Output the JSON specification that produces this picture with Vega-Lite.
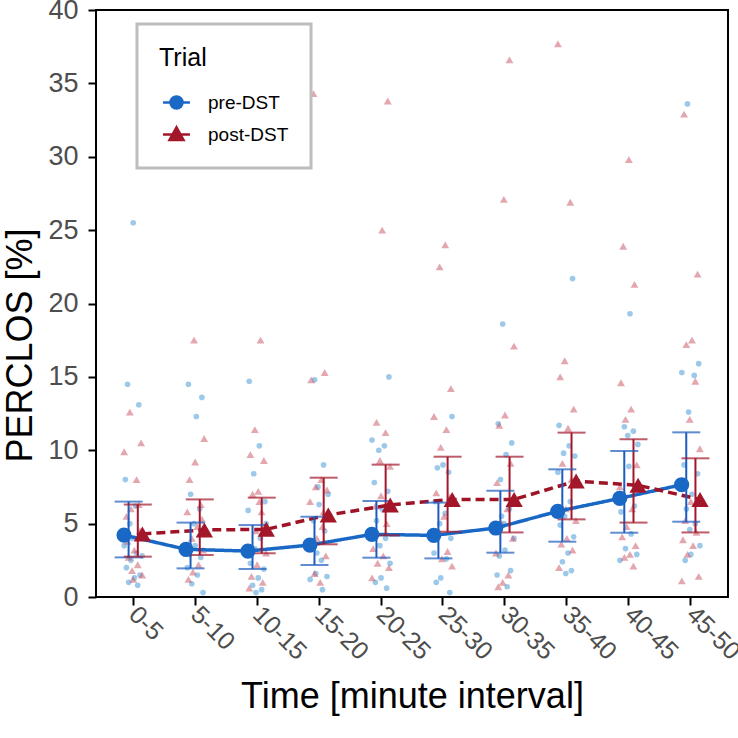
{
"$schema":"https://vega.github.io/schema/vega-lite/v6.json",
"width":632,"height":587,
"autosize":"none",
"padding":{"left":96,"top":10,"right":10,"bottom":141},
"background":"white",
"config":{
"font":"Liberation Sans",
"view":{"stroke":"black","strokeWidth":2},
"axis":{"grid":false,"domain":false,"tickColor":"black","tickWidth":2,"tickSize":8,"labelColor":"#4D4D4D","labelFontSize":27,"titleColor":"black","titleFontSize":36,"titleFontWeight":"normal"}
},
"datasets":{
"raw":[
{"interval":"0-5","trial":"pre-DST","subject":8,"perclos":25.5},{"interval":"0-5","trial":"pre-DST","subject":3,"perclos":14.5},{"interval":"0-5","trial":"pre-DST","subject":13,"perclos":13.1},{"interval":"0-5","trial":"pre-DST","subject":1,"perclos":8.0},{"interval":"0-5","trial":"pre-DST","subject":10,"perclos":6.2},{"interval":"0-5","trial":"pre-DST","subject":5,"perclos":5.0},{"interval":"0-5","trial":"pre-DST","subject":15,"perclos":4.3},{"interval":"0-5","trial":"pre-DST","subject":0,"perclos":3.5},{"interval":"0-5","trial":"pre-DST","subject":11,"perclos":3.0},{"interval":"0-5","trial":"pre-DST","subject":6,"perclos":2.5},{"interval":"0-5","trial":"pre-DST","subject":2,"perclos":2.0},{"interval":"0-5","trial":"pre-DST","subject":14,"perclos":1.5},{"interval":"0-5","trial":"pre-DST","subject":9,"perclos":1.3},{"interval":"0-5","trial":"pre-DST","subject":4,"perclos":1.0},{"interval":"0-5","trial":"pre-DST","subject":12,"perclos":0.8},{"interval":"0-5","trial":"pre-DST","subject":7,"perclos":4.0},{"interval":"0-5","trial":"pre-DST","subject":16,"perclos":2.8},
{"interval":"0-5","trial":"post-DST","subject":5,"perclos":12.6},{"interval":"0-5","trial":"post-DST","subject":15,"perclos":10.5},{"interval":"0-5","trial":"post-DST","subject":0,"perclos":9.9},{"interval":"0-5","trial":"post-DST","subject":11,"perclos":8.0},{"interval":"0-5","trial":"post-DST","subject":6,"perclos":6.0},{"interval":"0-5","trial":"post-DST","subject":2,"perclos":5.5},{"interval":"0-5","trial":"post-DST","subject":14,"perclos":4.5},{"interval":"0-5","trial":"post-DST","subject":9,"perclos":3.2},{"interval":"0-5","trial":"post-DST","subject":4,"perclos":2.7},{"interval":"0-5","trial":"post-DST","subject":12,"perclos":2.2},{"interval":"0-5","trial":"post-DST","subject":7,"perclos":1.8},{"interval":"0-5","trial":"post-DST","subject":16,"perclos":1.5},{"interval":"0-5","trial":"post-DST","subject":8,"perclos":1.2},{"interval":"0-5","trial":"post-DST","subject":3,"perclos":3.8},{"interval":"0-5","trial":"post-DST","subject":13,"perclos":6.3},
{"interval":"5-10","trial":"pre-DST","subject":2,"perclos":14.5},{"interval":"5-10","trial":"pre-DST","subject":14,"perclos":13.6},{"interval":"5-10","trial":"pre-DST","subject":9,"perclos":12.3},{"interval":"5-10","trial":"pre-DST","subject":4,"perclos":7.0},{"interval":"5-10","trial":"pre-DST","subject":12,"perclos":6.0},{"interval":"5-10","trial":"pre-DST","subject":7,"perclos":5.0},{"interval":"5-10","trial":"pre-DST","subject":16,"perclos":4.4},{"interval":"5-10","trial":"pre-DST","subject":8,"perclos":3.5},{"interval":"5-10","trial":"pre-DST","subject":3,"perclos":2.9},{"interval":"5-10","trial":"pre-DST","subject":13,"perclos":2.7},{"interval":"5-10","trial":"pre-DST","subject":1,"perclos":2.0},{"interval":"5-10","trial":"pre-DST","subject":10,"perclos":1.5},{"interval":"5-10","trial":"pre-DST","subject":5,"perclos":0.9},{"interval":"5-10","trial":"pre-DST","subject":15,"perclos":0.3},{"interval":"5-10","trial":"pre-DST","subject":0,"perclos":3.2},
{"interval":"5-10","trial":"post-DST","subject":7,"perclos":17.5},{"interval":"5-10","trial":"post-DST","subject":16,"perclos":10.8},{"interval":"5-10","trial":"post-DST","subject":8,"perclos":9.2},{"interval":"5-10","trial":"post-DST","subject":3,"perclos":8.0},{"interval":"5-10","trial":"post-DST","subject":13,"perclos":6.3},{"interval":"5-10","trial":"post-DST","subject":1,"perclos":5.8},{"interval":"5-10","trial":"post-DST","subject":10,"perclos":4.8},{"interval":"5-10","trial":"post-DST","subject":5,"perclos":4.0},{"interval":"5-10","trial":"post-DST","subject":15,"perclos":3.2},{"interval":"5-10","trial":"post-DST","subject":0,"perclos":3.0},{"interval":"5-10","trial":"post-DST","subject":11,"perclos":2.2},{"interval":"5-10","trial":"post-DST","subject":6,"perclos":1.7},{"interval":"5-10","trial":"post-DST","subject":2,"perclos":1.2},{"interval":"5-10","trial":"post-DST","subject":14,"perclos":5.3},
{"interval":"10-15","trial":"pre-DST","subject":1,"perclos":14.7},{"interval":"10-15","trial":"pre-DST","subject":10,"perclos":10.3},{"interval":"10-15","trial":"pre-DST","subject":5,"perclos":8.4},{"interval":"10-15","trial":"pre-DST","subject":15,"perclos":6.5},{"interval":"10-15","trial":"pre-DST","subject":0,"perclos":5.9},{"interval":"10-15","trial":"pre-DST","subject":11,"perclos":4.0},{"interval":"10-15","trial":"pre-DST","subject":6,"perclos":3.3},{"interval":"10-15","trial":"pre-DST","subject":2,"perclos":2.3},{"interval":"10-15","trial":"pre-DST","subject":14,"perclos":1.9},{"interval":"10-15","trial":"pre-DST","subject":9,"perclos":1.3},{"interval":"10-15","trial":"pre-DST","subject":4,"perclos":0.8},{"interval":"10-15","trial":"pre-DST","subject":12,"perclos":0.5},{"interval":"10-15","trial":"pre-DST","subject":7,"perclos":0.3},{"interval":"10-15","trial":"pre-DST","subject":16,"perclos":5.0},
{"interval":"10-15","trial":"post-DST","subject":11,"perclos":17.5},{"interval":"10-15","trial":"post-DST","subject":6,"perclos":11.4},{"interval":"10-15","trial":"post-DST","subject":2,"perclos":9.7},{"interval":"10-15","trial":"post-DST","subject":14,"perclos":9.3},{"interval":"10-15","trial":"post-DST","subject":9,"perclos":7.2},{"interval":"10-15","trial":"post-DST","subject":4,"perclos":7.0},{"interval":"10-15","trial":"post-DST","subject":12,"perclos":5.8},{"interval":"10-15","trial":"post-DST","subject":7,"perclos":4.5},{"interval":"10-15","trial":"post-DST","subject":16,"perclos":3.0},{"interval":"10-15","trial":"post-DST","subject":8,"perclos":2.2},{"interval":"10-15","trial":"post-DST","subject":3,"perclos":1.4},{"interval":"10-15","trial":"post-DST","subject":13,"perclos":1.0},{"interval":"10-15","trial":"post-DST","subject":1,"perclos":0.6},{"interval":"10-15","trial":"post-DST","subject":10,"perclos":6.5},
{"interval":"15-20","trial":"pre-DST","subject":4,"perclos":14.8},{"interval":"15-20","trial":"pre-DST","subject":12,"perclos":9.0},{"interval":"15-20","trial":"pre-DST","subject":7,"perclos":7.5},{"interval":"15-20","trial":"pre-DST","subject":16,"perclos":7.0},{"interval":"15-20","trial":"pre-DST","subject":8,"perclos":6.3},{"interval":"15-20","trial":"pre-DST","subject":3,"perclos":5.2},{"interval":"15-20","trial":"pre-DST","subject":13,"perclos":4.5},{"interval":"15-20","trial":"pre-DST","subject":1,"perclos":3.6},{"interval":"15-20","trial":"pre-DST","subject":10,"perclos":2.5},{"interval":"15-20","trial":"pre-DST","subject":5,"perclos":1.6},{"interval":"15-20","trial":"pre-DST","subject":15,"perclos":1.4},{"interval":"15-20","trial":"pre-DST","subject":0,"perclos":1.2},{"interval":"15-20","trial":"pre-DST","subject":11,"perclos":0.5},{"interval":"15-20","trial":"pre-DST","subject":6,"perclos":3.0},
{"interval":"15-20","trial":"post-DST","subject":3,"perclos":34.3},{"interval":"15-20","trial":"post-DST","subject":13,"perclos":15.3},{"interval":"15-20","trial":"post-DST","subject":1,"perclos":14.8},{"interval":"15-20","trial":"post-DST","subject":10,"perclos":8.0},{"interval":"15-20","trial":"post-DST","subject":5,"perclos":7.5},{"interval":"15-20","trial":"post-DST","subject":15,"perclos":7.3},{"interval":"15-20","trial":"post-DST","subject":0,"perclos":6.5},{"interval":"15-20","trial":"post-DST","subject":11,"perclos":4.8},{"interval":"15-20","trial":"post-DST","subject":6,"perclos":4.0},{"interval":"15-20","trial":"post-DST","subject":2,"perclos":3.4},{"interval":"15-20","trial":"post-DST","subject":14,"perclos":2.8},{"interval":"15-20","trial":"post-DST","subject":9,"perclos":1.0},{"interval":"15-20","trial":"post-DST","subject":4,"perclos":1.6},{"interval":"15-20","trial":"post-DST","subject":12,"perclos":5.8},
{"interval":"20-25","trial":"pre-DST","subject":15,"perclos":15.0},{"interval":"20-25","trial":"pre-DST","subject":0,"perclos":10.7},{"interval":"20-25","trial":"pre-DST","subject":11,"perclos":10.3},{"interval":"20-25","trial":"pre-DST","subject":6,"perclos":10.0},{"interval":"20-25","trial":"pre-DST","subject":2,"perclos":7.8},{"interval":"20-25","trial":"pre-DST","subject":14,"perclos":7.2},{"interval":"20-25","trial":"pre-DST","subject":9,"perclos":6.0},{"interval":"20-25","trial":"pre-DST","subject":4,"perclos":5.2},{"interval":"20-25","trial":"pre-DST","subject":12,"perclos":4.0},{"interval":"20-25","trial":"pre-DST","subject":7,"perclos":3.5},{"interval":"20-25","trial":"pre-DST","subject":16,"perclos":2.3},{"interval":"20-25","trial":"pre-DST","subject":8,"perclos":1.3},{"interval":"20-25","trial":"pre-DST","subject":3,"perclos":1.0},{"interval":"20-25","trial":"pre-DST","subject":13,"perclos":0.6},
{"interval":"20-25","trial":"post-DST","subject":14,"perclos":33.8},{"interval":"20-25","trial":"post-DST","subject":9,"perclos":25.0},{"interval":"20-25","trial":"post-DST","subject":4,"perclos":11.9},{"interval":"20-25","trial":"post-DST","subject":12,"perclos":11.2},{"interval":"20-25","trial":"post-DST","subject":7,"perclos":9.3},{"interval":"20-25","trial":"post-DST","subject":16,"perclos":8.9},{"interval":"20-25","trial":"post-DST","subject":8,"perclos":6.9},{"interval":"20-25","trial":"post-DST","subject":3,"perclos":6.2},{"interval":"20-25","trial":"post-DST","subject":13,"perclos":5.0},{"interval":"20-25","trial":"post-DST","subject":1,"perclos":3.3},{"interval":"20-25","trial":"post-DST","subject":10,"perclos":2.8},{"interval":"20-25","trial":"post-DST","subject":5,"perclos":2.3},{"interval":"20-25","trial":"post-DST","subject":15,"perclos":2.0},{"interval":"20-25","trial":"post-DST","subject":0,"perclos":1.3},
{"interval":"25-30","trial":"pre-DST","subject":16,"perclos":12.3},{"interval":"25-30","trial":"pre-DST","subject":8,"perclos":9.0},{"interval":"25-30","trial":"pre-DST","subject":3,"perclos":8.8},{"interval":"25-30","trial":"pre-DST","subject":13,"perclos":8.5},{"interval":"25-30","trial":"pre-DST","subject":1,"perclos":6.5},{"interval":"25-30","trial":"pre-DST","subject":10,"perclos":5.7},{"interval":"25-30","trial":"pre-DST","subject":5,"perclos":5.0},{"interval":"25-30","trial":"pre-DST","subject":15,"perclos":4.0},{"interval":"25-30","trial":"pre-DST","subject":0,"perclos":3.0},{"interval":"25-30","trial":"pre-DST","subject":11,"perclos":2.6},{"interval":"25-30","trial":"pre-DST","subject":6,"perclos":1.3},{"interval":"25-30","trial":"pre-DST","subject":2,"perclos":1.0},{"interval":"25-30","trial":"pre-DST","subject":14,"perclos":0.3},
{"interval":"25-30","trial":"post-DST","subject":10,"perclos":24.0},{"interval":"25-30","trial":"post-DST","subject":5,"perclos":22.5},{"interval":"25-30","trial":"post-DST","subject":15,"perclos":14.2},{"interval":"25-30","trial":"post-DST","subject":0,"perclos":12.3},{"interval":"25-30","trial":"post-DST","subject":11,"perclos":11.4},{"interval":"25-30","trial":"post-DST","subject":6,"perclos":10.2},{"interval":"25-30","trial":"post-DST","subject":2,"perclos":7.1},{"interval":"25-30","trial":"post-DST","subject":14,"perclos":6.8},{"interval":"25-30","trial":"post-DST","subject":9,"perclos":5.5},{"interval":"25-30","trial":"post-DST","subject":4,"perclos":4.5},{"interval":"25-30","trial":"post-DST","subject":12,"perclos":3.1},{"interval":"25-30","trial":"post-DST","subject":7,"perclos":2.6},{"interval":"25-30","trial":"post-DST","subject":16,"perclos":2.1},
{"interval":"30-35","trial":"pre-DST","subject":6,"perclos":18.6},{"interval":"30-35","trial":"pre-DST","subject":2,"perclos":11.8},{"interval":"30-35","trial":"pre-DST","subject":14,"perclos":10.5},{"interval":"30-35","trial":"pre-DST","subject":9,"perclos":9.7},{"interval":"30-35","trial":"pre-DST","subject":4,"perclos":8.0},{"interval":"30-35","trial":"pre-DST","subject":12,"perclos":6.0},{"interval":"30-35","trial":"pre-DST","subject":7,"perclos":5.0},{"interval":"30-35","trial":"pre-DST","subject":16,"perclos":4.0},{"interval":"30-35","trial":"pre-DST","subject":8,"perclos":3.2},{"interval":"30-35","trial":"pre-DST","subject":3,"perclos":2.8},{"interval":"30-35","trial":"pre-DST","subject":13,"perclos":1.8},{"interval":"30-35","trial":"pre-DST","subject":1,"perclos":1.5},{"interval":"30-35","trial":"pre-DST","subject":10,"perclos":0.7},{"interval":"30-35","trial":"pre-DST","subject":5,"perclos":5.5},
{"interval":"30-35","trial":"post-DST","subject":12,"perclos":36.6},{"interval":"30-35","trial":"post-DST","subject":7,"perclos":27.1},{"interval":"30-35","trial":"post-DST","subject":16,"perclos":17.1},{"interval":"30-35","trial":"post-DST","subject":8,"perclos":12.4},{"interval":"30-35","trial":"post-DST","subject":3,"perclos":11.7},{"interval":"30-35","trial":"post-DST","subject":13,"perclos":9.1},{"interval":"30-35","trial":"post-DST","subject":1,"perclos":7.8},{"interval":"30-35","trial":"post-DST","subject":10,"perclos":6.0},{"interval":"30-35","trial":"post-DST","subject":5,"perclos":5.0},{"interval":"30-35","trial":"post-DST","subject":15,"perclos":4.0},{"interval":"30-35","trial":"post-DST","subject":0,"perclos":3.0},{"interval":"30-35","trial":"post-DST","subject":11,"perclos":1.5},{"interval":"30-35","trial":"post-DST","subject":6,"perclos":1.0},{"interval":"30-35","trial":"post-DST","subject":2,"perclos":0.7},
{"interval":"35-40","trial":"pre-DST","subject":13,"perclos":21.7},{"interval":"35-40","trial":"pre-DST","subject":1,"perclos":11.7},{"interval":"35-40","trial":"pre-DST","subject":10,"perclos":10.3},{"interval":"35-40","trial":"pre-DST","subject":5,"perclos":9.8},{"interval":"35-40","trial":"pre-DST","subject":15,"perclos":9.6},{"interval":"35-40","trial":"pre-DST","subject":0,"perclos":8.5},{"interval":"35-40","trial":"pre-DST","subject":11,"perclos":6.5},{"interval":"35-40","trial":"pre-DST","subject":6,"perclos":5.5},{"interval":"35-40","trial":"pre-DST","subject":2,"perclos":4.9},{"interval":"35-40","trial":"pre-DST","subject":14,"perclos":4.1},{"interval":"35-40","trial":"pre-DST","subject":9,"perclos":3.0},{"interval":"35-40","trial":"pre-DST","subject":4,"perclos":2.4},{"interval":"35-40","trial":"pre-DST","subject":12,"perclos":1.8},{"interval":"35-40","trial":"pre-DST","subject":7,"perclos":1.6},
{"interval":"35-40","trial":"post-DST","subject":0,"perclos":37.7},{"interval":"35-40","trial":"post-DST","subject":11,"perclos":26.9},{"interval":"35-40","trial":"post-DST","subject":6,"perclos":16.1},{"interval":"35-40","trial":"post-DST","subject":2,"perclos":15.0},{"interval":"35-40","trial":"post-DST","subject":14,"perclos":12.8},{"interval":"35-40","trial":"post-DST","subject":9,"perclos":11.5},{"interval":"35-40","trial":"post-DST","subject":4,"perclos":9.1},{"interval":"35-40","trial":"post-DST","subject":12,"perclos":8.0},{"interval":"35-40","trial":"post-DST","subject":7,"perclos":6.0},{"interval":"35-40","trial":"post-DST","subject":16,"perclos":5.2},{"interval":"35-40","trial":"post-DST","subject":8,"perclos":4.0},{"interval":"35-40","trial":"post-DST","subject":3,"perclos":3.6},{"interval":"35-40","trial":"post-DST","subject":13,"perclos":3.2},{"interval":"35-40","trial":"post-DST","subject":1,"perclos":2.0},
{"interval":"40-45","trial":"pre-DST","subject":9,"perclos":19.3},{"interval":"40-45","trial":"pre-DST","subject":4,"perclos":11.6},{"interval":"40-45","trial":"pre-DST","subject":12,"perclos":11.3},{"interval":"40-45","trial":"pre-DST","subject":7,"perclos":11.0},{"interval":"40-45","trial":"pre-DST","subject":16,"perclos":10.4},{"interval":"40-45","trial":"pre-DST","subject":8,"perclos":8.9},{"interval":"40-45","trial":"pre-DST","subject":3,"perclos":7.0},{"interval":"40-45","trial":"pre-DST","subject":13,"perclos":6.2},{"interval":"40-45","trial":"pre-DST","subject":1,"perclos":5.8},{"interval":"40-45","trial":"pre-DST","subject":10,"perclos":4.3},{"interval":"40-45","trial":"pre-DST","subject":5,"perclos":3.3},{"interval":"40-45","trial":"pre-DST","subject":15,"perclos":2.9},{"interval":"40-45","trial":"pre-DST","subject":0,"perclos":2.5},
{"interval":"40-45","trial":"post-DST","subject":8,"perclos":29.8},{"interval":"40-45","trial":"post-DST","subject":3,"perclos":23.9},{"interval":"40-45","trial":"post-DST","subject":13,"perclos":21.3},{"interval":"40-45","trial":"post-DST","subject":1,"perclos":14.6},{"interval":"40-45","trial":"post-DST","subject":10,"perclos":12.8},{"interval":"40-45","trial":"post-DST","subject":5,"perclos":12.1},{"interval":"40-45","trial":"post-DST","subject":15,"perclos":9.0},{"interval":"40-45","trial":"post-DST","subject":0,"perclos":7.5},{"interval":"40-45","trial":"post-DST","subject":11,"perclos":6.0},{"interval":"40-45","trial":"post-DST","subject":6,"perclos":4.8},{"interval":"40-45","trial":"post-DST","subject":2,"perclos":4.1},{"interval":"40-45","trial":"post-DST","subject":14,"perclos":3.5},{"interval":"40-45","trial":"post-DST","subject":9,"perclos":2.9},{"interval":"40-45","trial":"post-DST","subject":4,"perclos":2.7},{"interval":"40-45","trial":"post-DST","subject":12,"perclos":2.1},
{"interval":"45-50","trial":"pre-DST","subject":5,"perclos":33.6},{"interval":"45-50","trial":"pre-DST","subject":15,"perclos":15.9},{"interval":"45-50","trial":"pre-DST","subject":0,"perclos":15.3},{"interval":"45-50","trial":"pre-DST","subject":11,"perclos":15.1},{"interval":"45-50","trial":"pre-DST","subject":6,"perclos":12.6},{"interval":"45-50","trial":"pre-DST","subject":2,"perclos":9.0},{"interval":"45-50","trial":"pre-DST","subject":14,"perclos":8.4},{"interval":"45-50","trial":"pre-DST","subject":9,"perclos":7.0},{"interval":"45-50","trial":"pre-DST","subject":4,"perclos":6.0},{"interval":"45-50","trial":"pre-DST","subject":12,"perclos":5.0},{"interval":"45-50","trial":"pre-DST","subject":7,"perclos":4.6},{"interval":"45-50","trial":"pre-DST","subject":16,"perclos":3.5},{"interval":"45-50","trial":"pre-DST","subject":8,"perclos":2.9},{"interval":"45-50","trial":"pre-DST","subject":3,"perclos":2.5},
{"interval":"45-50","trial":"post-DST","subject":2,"perclos":32.9},{"interval":"45-50","trial":"post-DST","subject":14,"perclos":22.0},{"interval":"45-50","trial":"post-DST","subject":9,"perclos":17.5},{"interval":"45-50","trial":"post-DST","subject":4,"perclos":17.2},{"interval":"45-50","trial":"post-DST","subject":12,"perclos":14.7},{"interval":"45-50","trial":"post-DST","subject":7,"perclos":12.1},{"interval":"45-50","trial":"post-DST","subject":16,"perclos":10.1},{"interval":"45-50","trial":"post-DST","subject":8,"perclos":6.5},{"interval":"45-50","trial":"post-DST","subject":3,"perclos":5.2},{"interval":"45-50","trial":"post-DST","subject":13,"perclos":4.4},{"interval":"45-50","trial":"post-DST","subject":1,"perclos":3.9},{"interval":"45-50","trial":"post-DST","subject":10,"perclos":3.5},{"interval":"45-50","trial":"post-DST","subject":5,"perclos":2.9},{"interval":"45-50","trial":"post-DST","subject":15,"perclos":1.4},{"interval":"45-50","trial":"post-DST","subject":0,"perclos":1.1}
],
"summary":[
{"interval":"0-5","trial":"pre-DST","mean":4.22,"lo":2.7,"hi":6.5},{"interval":"0-5","trial":"post-DST","mean":4.3,"lo":2.75,"hi":6.3},
{"interval":"5-10","trial":"pre-DST","mean":3.25,"lo":1.95,"hi":5.07},{"interval":"5-10","trial":"post-DST","mean":4.57,"lo":2.86,"hi":6.65},
{"interval":"10-15","trial":"pre-DST","mean":3.13,"lo":1.91,"hi":4.9},{"interval":"10-15","trial":"post-DST","mean":4.61,"lo":2.98,"hi":6.77},
{"interval":"15-20","trial":"pre-DST","mean":3.54,"lo":2.18,"hi":5.47},{"interval":"15-20","trial":"post-DST","mean":5.59,"lo":3.59,"hi":8.13},
{"interval":"20-25","trial":"pre-DST","mean":4.27,"lo":2.68,"hi":6.54},{"interval":"20-25","trial":"post-DST","mean":6.27,"lo":4.2,"hi":9.02},
{"interval":"25-30","trial":"pre-DST","mean":4.2,"lo":2.63,"hi":6.43},{"interval":"25-30","trial":"post-DST","mean":6.65,"lo":4.45,"hi":9.56},
{"interval":"30-35","trial":"pre-DST","mean":4.7,"lo":3.02,"hi":7.24},{"interval":"30-35","trial":"post-DST","mean":6.65,"lo":4.4,"hi":9.56},
{"interval":"35-40","trial":"pre-DST","mean":5.84,"lo":3.77,"hi":8.7},{"interval":"35-40","trial":"post-DST","mean":7.9,"lo":5.29,"hi":11.2},
{"interval":"40-45","trial":"pre-DST","mean":6.72,"lo":4.38,"hi":9.95},{"interval":"40-45","trial":"post-DST","mean":7.61,"lo":5.07,"hi":10.75},
{"interval":"45-50","trial":"pre-DST","mean":7.65,"lo":5.13,"hi":11.22},{"interval":"45-50","trial":"post-DST","mean":6.65,"lo":4.4,"hi":9.45}
]
},
"resolve":{"scale":{"xOffset":"independent"}},
"encoding":{
"x":{"field":"interval","type":"nominal","sort":["0-5","5-10","10-15","15-20","20-25","25-30","30-35","35-40","40-45","45-50"],
"scale":{"type":"band","paddingInner":0,"paddingOuter":0.1},
"axis":{"title":"Time [minute interval]","labelAngle":45,"labelAlign":"left","labelBaseline":"middle","labelPadding":5,"labelDx":-4,"labelFontSize":25,"labelOverlap":false,"labelFlush":false,"titleBaseline":"alphabetic","titleY":110}}
},
"layer":[
{"data":{"name":"raw"},"transform":[{"filter":"datum.trial === 'pre-DST'"}],
"mark":{"type":"point","filled":true,"shape":"circle","size":32,"color":"#4A9CD8","opacity":0.55,"strokeWidth":0},
"encoding":{
"y":{"field":"perclos","type":"quantitative","title":"PERCLOS [%]","scale":{"domain":[0,40],"nice":false,"zero":true},"axis":{"values":[0,5,10,15,20,25,30,35,40],"labelPadding":10,"titlePadding":8,"titleY":335}},
"xOffset":{"field":"subject","type":"nominal","scale":{"domain":[0,1,2,3,4,5,6,7,8,9,10,11,12,13,14,15,16],"range":[22,40],"paddingInner":0,"paddingOuter":0}}}},
{"data":{"name":"raw"},"transform":[{"filter":"datum.trial === 'post-DST'"}],
"mark":{"type":"point","filled":true,"shape":"triangle-up","size":62,"color":"#C8505F","opacity":0.5,"strokeWidth":0},
"encoding":{
"y":{"field":"perclos","type":"quantitative","title":"PERCLOS [%]","scale":{"domain":[0,40],"nice":false,"zero":true}},
"xOffset":{"field":"subject","type":"nominal","scale":{"domain":[0,1,2,3,4,5,6,7,8,9,10,11,12,13,14,15,16],"range":[22,40],"paddingInner":0,"paddingOuter":0}}}},
{"data":{"name":"summary"},
"mark":{"type":"line","strokeWidth":3.5},
"encoding":{
"y":{"field":"mean","type":"quantitative","title":"PERCLOS [%]","scale":{"domain":[0,40],"nice":false,"zero":true}},
"xOffset":{"field":"trial","type":"nominal","scale":{"domain":["pre-DST","post-DST"],"range":[21.8,40.2],"paddingInner":0,"paddingOuter":0}},
"detail":{"field":"trial","type":"nominal"},
"color":{"condition":{"test":"datum.trial === 'pre-DST'","value":"#1A68C6"},"value":"#9E1426"},
"strokeDash":{"condition":{"test":"datum.trial === 'pre-DST'","value":[1,0]},"value":[9,5]}}},
{"data":{"name":"summary"},
"mark":{"type":"rule","strokeWidth":2},
"encoding":{
"y":{"field":"lo","type":"quantitative","title":"PERCLOS [%]","scale":{"domain":[0,40],"nice":false,"zero":true}},
"y2":{"field":"hi"},
"xOffset":{"field":"trial","type":"nominal","scale":{"domain":["pre-DST","post-DST"],"range":[21.8,40.2],"paddingInner":0,"paddingOuter":0}},
"color":{"condition":{"test":"datum.trial === 'pre-DST'","value":"#1D5CBE"},"value":"#A3172B"}}},
{"data":{"name":"summary"},
"mark":{"type":"tick","size":28,"thickness":2},
"encoding":{
"y":{"field":"lo","type":"quantitative","title":"PERCLOS [%]","scale":{"domain":[0,40],"nice":false,"zero":true}},
"xOffset":{"field":"trial","type":"nominal","scale":{"domain":["pre-DST","post-DST"],"range":[21.8,40.2],"paddingInner":0,"paddingOuter":0}},
"color":{"condition":{"test":"datum.trial === 'pre-DST'","value":"#1D5CBE"},"value":"#A3172B"}}},
{"data":{"name":"summary"},
"mark":{"type":"tick","size":28,"thickness":2},
"encoding":{
"y":{"field":"hi","type":"quantitative","title":"PERCLOS [%]","scale":{"domain":[0,40],"nice":false,"zero":true}},
"xOffset":{"field":"trial","type":"nominal","scale":{"domain":["pre-DST","post-DST"],"range":[21.8,40.2],"paddingInner":0,"paddingOuter":0}},
"color":{"condition":{"test":"datum.trial === 'pre-DST'","value":"#1D5CBE"},"value":"#A3172B"}}},
{"data":{"name":"summary"},
"mark":{"type":"point","filled":true,"opacity":1},
"encoding":{
"y":{"field":"mean","type":"quantitative","title":"PERCLOS [%]","scale":{"domain":[0,40],"nice":false,"zero":true}},
"xOffset":{"field":"trial","type":"nominal","scale":{"domain":["pre-DST","post-DST"],"range":[21.8,40.2],"paddingInner":0,"paddingOuter":0}},
"shape":{"condition":{"test":"datum.trial === 'pre-DST'","value":"circle"},"value":"triangle-up"},
"size":{"condition":{"test":"datum.trial === 'pre-DST'","value":230},"value":300},
"color":{"field":"trial","type":"nominal","scale":{"domain":["pre-DST","post-DST"],"range":["#1A68C6","#A3172B"]},
"legend":{"orient":"none","legendX":41,"legendY":14,"title":"Trial","titleFontSize":25,"titleFontWeight":"normal","titleColor":"black","titlePadding":14,
"labelFontSize":19,"labelColor":"black","labelOffset":14,"symbolSize":1024,"rowPadding":3,"padding":22,
"strokeColor":"#BEBEBE","fillColor":"white",
"encoding":{
"legend":{"strokeWidth":{"value":3}},
"symbols":{
"shape":{"value":{"expr":"datum.value === 'pre-DST' ? 'M-0.84,0H0.84M0.375,0A0.375,0.375,0,1,1,-0.375,0A0.375,0.375,0,1,1,0.375,0Z' : 'M-0.84,0H0.84M0,-0.45L0.44,0.35L-0.44,0.35Z'"}},
"size":{"value":1024},
"stroke":{"value":{"expr":"datum.value === 'pre-DST' ? '#1A68C6' : '#A3172B'"}},
"strokeWidth":{"value":2.5},
"opacity":{"value":1}}}}}}}
]
}
